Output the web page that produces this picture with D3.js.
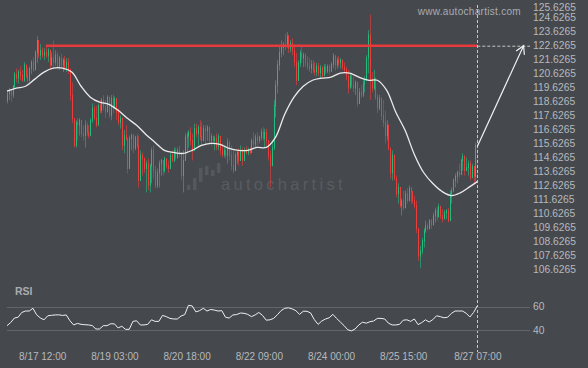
<!DOCTYPE html>
<html>
<head>
<meta charset="utf-8">
<script src="https://cdn.jsdelivr.net/npm/d3@7"></script>
<style>
html, body { margin: 0; padding: 0; background: #45484d; }
svg { display: block; font-family: "Liberation Sans", Arial, sans-serif; }
</style>
</head>
<body>
<div id="chart"></div>
<script>
// hourly bars, open = previous close
const firstOpen = 118.7
const closes = [
  119.2,119.45,119.1,119.75,120.6,120.3,120.75,120.5,120.15,121.25,
  120.5,120.15,121.0,121.45,120.9,122.15,123.0,121.95,122.3,121.95,
  122.15,121.9,122.3,121.25,121.75,121.45,121.95,121.15,121.75,121.25,
  121.6,121.05,121.45,120.9,119.1,117.4,115.5,117.15,116.95,117.3,
  116.35,116.2,116.95,116.45,116.2,117.3,118.15,117.45,116.95,118.35,
  118.0,118.75,118.25,117.9,118.95,117.65,118.85,118.15,118.85,117.85,
  117.15,117.45,115.5,116.2,116.0,113.85,116.0,116.2,115.3,116.1,
  115.5,113.0,114.8,114.55,113.85,114.2,112.65,114.05,115.15,113.7,
  112.65,113.55,114.2,114.43,113.7,114.55,114.05,113.85,114.8,114.43,
  115.15,114.65,115.15,114.95,113.35,114.43,116.1,116.2,116.45,115.85,
  115.15,116.7,116.35,116.8,116.15,115.85,116.7,116.55,116.8,115.85,
  116.15,115.85,116.0,115.4,116.15,115.15,114.85,115.15,114.8,115.7,
  114.8,114.05,113.7,114.8,115.0,114.43,115.15,114.43,115.15,115.0,
  115.2,115.0,115.85,115.6,116.1,115.85,116.1,116.45,116.0,116.45,
  115.85,114.8,114.05,115.35,118.35,119.8,121.25,122.15,122.5,122.7,
  122.55,123.3,122.45,122.8,122.3,121.45,120.15,121.4,122.1,121.75,
  121.95,121.4,121.15,121.0,121.3,120.9,120.75,121.15,120.7,121.05,
  120.5,121.1,120.8,121.15,120.8,121.3,121.9,121.25,121.6,121.4,
  121.6,121.1,120.9,120.4,119.6,120.45,119.8,119.6,120.0,118.5,
  119.3,119.1,119.9,120.15,121.75,123.4,120.2,119.6,120.3,118.95,
  118.15,118.85,117.65,117.15,116.2,116.95,115.3,113.55,114.8,113.15,
  112.05,112.5,111.2,111.55,111.05,112.05,111.55,112.45,112.2,111.55,
  111.2,109.55,107.6,107.97,108.69,109.41,109.77,109.55,110.13,109.85,
  110.48,110.84,110.4,111.15,110.48,110.25,110.7,110.84,110.13,112.05,
  112.28,112.99,113.3,113.57,113.42,114.43,114.72,113.71,113.92,114.2,
  113.2,114.0,113.3,115.5,115.43
]
const highs = [
  119.45,119.6,119.3,119.8,120.75,121.0,120.9,121.15,120.9,121.45,
  121.25,121.05,121.15,121.6,121.8,122.3,123.3,123.0,122.75,122.5,
  122.45,122.6,122.45,122.3,122.15,123.0,122.3,122.15,121.9,122.05,
  121.75,121.9,121.75,121.75,121.0,120.0,117.45,117.3,117.45,117.45,
  117.15,116.95,117.3,117.15,116.95,117.45,118.5,118.35,118.35,118.5,
  118.75,118.9,119.1,118.75,119.1,118.95,119.1,119.15,119.0,118.85,
  118.15,117.65,117.45,116.6,116.95,116.0,116.2,116.35,116.35,116.2,
  116.35,116.2,115.15,115.0,114.65,114.43,114.55,114.2,115.35,115.5,
  114.05,113.85,114.43,114.55,114.43,114.7,114.55,114.43,115.0,115.15,
  115.35,115.35,115.35,115.5,114.95,115.15,116.35,116.45,116.6,116.8,
  116.35,117.05,117.05,116.95,117.3,117.15,116.95,116.95,116.95,116.7,
  116.35,116.2,116.2,116.35,116.35,115.85,115.65,115.5,115.5,116.0,
  115.85,115.5,115.15,115.0,115.15,115.3,115.5,115.35,115.35,115.45,
  115.35,115.35,116.0,116.45,116.3,116.45,116.2,116.7,116.8,116.7,
  116.7,115.85,115.15,115.85,118.75,120.15,121.6,122.55,123.0,122.9,
  123.5,123.6,123.4,123.05,123.15,122.67,122.1,121.6,122.3,122.55,
  122.15,122.1,121.9,121.75,121.6,121.6,121.45,121.4,121.4,121.25,
  121.15,121.3,121.3,121.3,121.3,121.45,122.1,121.95,121.8,121.9,
  121.75,121.6,121.45,121.1,120.9,120.65,120.75,120.4,120.15,119.8,
  119.6,119.8,120.15,120.45,121.95,123.75,124.85,120.75,120.9,120.15,
  119.2,119.1,118.95,118.75,118.0,117.3,116.95,115.3,115.15,114.43,
  113.35,112.8,112.5,111.7,112.28,112.28,112.45,112.64,112.5,112.15,
  111.92,111.56,109.55,108.33,108.9,109.6,110.13,109.95,110.25,110.25,
  110.7,111.05,111.1,111.35,111.05,110.95,110.9,110.95,111.05,112.28,
  112.5,113.15,113.5,113.71,114.2,114.55,114.95,114.8,114.65,114.43,
  114.43,114.2,114.05,115.7,116.2
]
const lows = [
  118.5,118.75,118.6,118.9,119.6,120.0,119.9,120.15,120.05,120.05,
  120.3,119.95,120.05,120.6,120.75,120.9,121.4,121.75,121.6,121.75,
  121.6,121.75,121.45,120.95,121.15,121.1,121.2,120.9,120.9,121.05,
  120.75,120.9,120.75,120.6,118.7,117.1,115.35,115.35,115.85,116.2,
  116.1,115.85,115.35,116.2,116.0,116.6,117.1,117.3,116.8,117.1,
  117.8,117.8,118.0,117.45,118.0,117.45,117.3,117.8,118.35,117.3,
  116.95,116.7,115.15,114.95,115.85,113.5,114.95,115.15,114.95,115.15,
  115.3,112.5,113.35,113.35,113.55,112.15,112.3,112.15,112.8,113.15,
  112.45,112.45,112.5,113.35,113.35,113.55,113.85,113.55,113.85,114.3,
  114.3,114.43,114.55,114.65,113.0,112.15,114.43,114.95,115.35,115.5,
  114.43,115.35,116.1,115.5,115.85,115.5,115.85,115.5,115.85,115.65,
  115.5,115.65,115.15,115.15,115.15,114.8,114.65,114.65,114.55,114.2,
  114.43,113.7,113.5,113.7,114.2,114.05,114.43,114.05,114.8,114.85,
  114.8,114.85,115.15,115.35,115.3,115.5,115.65,115.85,115.85,115.35,
  115.5,114.43,112.5,114.05,115.15,117.5,119.2,120.85,121.8,121.95,
  122.3,122.5,122.1,122.15,121.95,121.1,119.8,120.3,121.1,121.4,
  121.1,121.1,120.9,120.75,120.65,120.65,120.5,120.45,120.45,120.3,
  120.3,120.45,120.6,120.65,120.6,120.75,121.0,120.85,121.0,121.15,
  121.0,120.9,120.65,120.15,119.2,119.65,119.6,119.3,119.1,118.25,
  118.7,118.9,118.95,119.3,120.15,120.65,118.75,119.3,119.45,118.75,
  117.8,118.0,117.3,116.8,115.65,115.85,115.15,113.15,113.0,113.0,
  111.8,111.35,111.05,110.5,110.85,111.05,111.35,111.55,111.35,111.35,
  111.0,109.25,107.25,106.75,107.75,108.2,109.25,109.41,109.55,109.55,
  109.77,110.0,110.13,110.6,110.25,110.0,110.35,110.25,110.0,110.6,
  111.35,112.15,112.5,112.8,113.2,113.5,113.71,113.35,113.71,113.35,
  113.0,113.35,112.7,113.0,113.35
]

// moving average read every 5 bars (last one at the final bar)
const maBars = d3.range(0, 255, 5).concat([254])
const maValues = [
  119.38,119.59,119.73,120.24,120.74,121.02,121.02,120.74,119.73,118.95,
  118.59,118.44,118.01,117.44,116.94,116.29,115.72,115.15,115.0,114.93,
  115.15,115.5,115.65,115.58,115.29,115.15,115.15,115.36,115.36,116.08,
  117.73,118.95,119.73,120.16,120.31,120.38,120.67,120.67,120.38,120.16,
  120.16,119.45,117.87,116.58,114.86,113.57,112.78,112.21,111.92,112.13,
  112.56,112.92
]

// RSI read every 2 bars
const rsiBars = d3.range(0, 255, 2)
const rsiValues = [
  43.9,46.5,50.3,51,55,56.2,56.2,58.5,53,50.4,
  48.8,52.2,52.6,52.9,53,52.5,52.9,48,44.5,45.8,
  45,44.7,44.5,44,41.1,41.1,43.9,43.9,45.5,45.4,
  42,43.4,40.8,40.8,47.5,48,44.5,44.5,45,48.8,
  47.5,47.5,52.5,51.5,50,49.5,49.5,52,53.2,61,
  60.5,55.5,56.5,58.5,56.2,57.5,57,56.2,56.5,51,
  50.3,52.9,53.2,54.5,54.3,53.4,51.5,52.9,55,52.5,
  48.5,48.8,50,53,56.5,58.5,58.9,58,56.5,53.4,
  56,56,54.5,48.9,45,47.8,49.5,50.5,53.4,50,
  47,44,40.5,39.5,41.1,44.5,46.8,46,47.2,47.8,
  50,50,49.5,46,44.5,44.5,45,48.5,48.8,47.5,
  49.5,44.8,46.5,48.8,47,49,52.2,51.5,50.5,51,
  54.2,56.2,56.2,56.2,54.3,51.2,55,60.5
]

const priceTicks = [106.6265,107.6265,108.6265,109.6265,110.6265,111.6265,112.6265,113.6265,
  114.6265,115.6265,116.6265,117.6265,118.6265,119.6265,120.6265,121.6265,122.6265,123.6265,
  124.6265,125.6265]
const rsiTicks = [40, 60]
const timeBars = [19, 58, 97, 136, 175, 214, 254]
const timeLabels = ["8/17 12:00", "8/19 03:00", "8/20 18:00", "8/22 09:00", "8/24 00:00", "8/25 15:00", "8/27 07:00"]

const level = 122.6265
const levelStart = 21
const lastBar = 254
const targetBar = 279

const W = 588, H = 368
const green = "#1fbd7e", red = "#f03b3b", text = "#b6b9bd"

const svg = d3.select("#chart").append("svg")
    .attr("width", W)
    .attr("height", H)

svg.append("rect").attr("width", W).attr("height", H).attr("fill", "#45484d")

const x = d3.scaleLinear().domain([0, lastBar]).range([7, 477.3])
const y = d3.scaleLinear().domain([106.6265, 122.6265]).range([269.7, 45.7])
const yr = d3.scaleLinear().domain([40, 60]).range([330.3, 306.5])
const px = i => Math.round(x(i)) + 0.5

// watermark
const wm = svg.append("g").attr("fill", "#55585d")
const logo = [[187, 185, 190], [193, 178, 190], [199, 168, 182], [205, 166, 175], [211, 170, 176], [217, 163, 173]]
logo.forEach(b => wm.append("rect").attr("x", b[0]).attr("y", b[1]).attr("width", 3.5).attr("height", b[2] - b[1]))
svg.append("text")
    .attr("x", 221).attr("y", 190)
    .attr("fill", "#595c61")
    .attr("font-size", 16.5)
    .attr("letter-spacing", 3.3)
    .text("autochartist")

svg.append("text")
    .attr("x", 521).attr("y", 15)
    .attr("text-anchor", "end")
    .attr("fill", "#a9acb0")
    .attr("font-size", 10)
    .attr("letter-spacing", 0.3)
    .text("www.autochartist.com")

// price axis
const yAxis = d3.axisRight(y).tickValues(priceTicks).tickSize(0).tickPadding(0)
    .tickFormat(d3.format(".4f"))
const ya = svg.append("g").attr("transform", "translate(533,0)").call(yAxis)
ya.select(".domain").remove()
ya.selectAll("text").attr("fill", text).attr("font-size", 10.3).attr("font-family", null)
ya.selectAll("text").filter(d => y(d) < 6).attr("dy", "0.62em")

// candles
const bars = closes.map((c, i) => ({
  i: i,
  o: i === 0 ? firstOpen : closes[i - 1],
  c: c,
  h: highs[i],
  l: lows[i]
}))
const cg = svg.append("g")
cg.selectAll("line.wick").data(bars).enter().append("line")
    .attr("class", "wick")
    .attr("x1", d => px(d.i)).attr("x2", d => px(d.i))
    .attr("y1", d => y(Math.max(d.h, d.o, d.c)))
    .attr("y2", d => y(Math.min(d.l, d.o, d.c)))
    .attr("stroke", d => d.c >= d.o ? green : red)
    .attr("stroke-opacity", 0.6)
    .attr("stroke-width", 1)
cg.selectAll("line.body").data(bars).enter().append("line")
    .attr("class", "body")
    .attr("x1", d => px(d.i)).attr("x2", d => px(d.i))
    .attr("y1", d => y(Math.max(d.o, d.c)) - 0.5)
    .attr("y2", d => y(Math.min(d.o, d.c)) + 0.5)
    .attr("stroke", d => d.c >= d.o ? green : red)
    .attr("stroke-width", 1)

// moving average
svg.append("path")
    .datum(maValues)
    .attr("fill", "none")
    .attr("stroke", "#ececec")
    .attr("stroke-width", 1.3)
    .attr("d", d3.line().x((d, k) => x(maBars[k])).y(d => y(d)).curve(d3.curveCatmullRom))

// resistance level
svg.append("line")
    .attr("x1", x(levelStart)).attr("x2", x(lastBar))
    .attr("y1", y(level)).attr("y2", y(level))
    .attr("stroke", "#e8393c").attr("stroke-width", 2.4)
svg.append("line")
    .attr("x1", x(lastBar)).attr("x2", 530)
    .attr("y1", y(level) + 0.5).attr("y2", y(level) + 0.5)
    .attr("stroke", "#c9c9c9").attr("stroke-width", 1).attr("stroke-dasharray", "3,2")
svg.append("line")
    .attr("x1", px(lastBar)).attr("x2", px(lastBar))
    .attr("y1", 5).attr("y2", 352)
    .attr("stroke", "#c9c9c9").attr("stroke-width", 1).attr("stroke-dasharray", "3,2")

// forecast arrow
svg.append("defs").append("marker")
    .attr("id", "arr")
    .attr("markerUnits", "userSpaceOnUse")
    .attr("viewBox", "-10 -6 12 12")
    .attr("refX", 0).attr("refY", 0)
    .attr("markerWidth", 12).attr("markerHeight", 12)
    .attr("orient", "auto")
    .append("path")
    .attr("d", "M-8,-4.5L0,0L-8,4.5")
    .attr("fill", "none").attr("stroke", "#f2f2f2").attr("stroke-width", 1.2)
svg.append("line")
    .attr("x1", x(lastBar)).attr("y1", y(closes[lastBar]))
    .attr("x2", x(targetBar)).attr("y2", y(level))
    .attr("stroke", "#f2f2f2").attr("stroke-width", 1.2)
    .attr("marker-end", "url(#arr)")

// RSI panel
svg.append("text")
    .attr("x", 15).attr("y", 295)
    .attr("fill", "#a9acb0").attr("font-size", 10.5).attr("font-weight", "bold")
    .text("RSI")
svg.selectAll("line.rsigrid").data(rsiTicks).enter().append("line")
    .attr("class", "rsigrid")
    .attr("x1", 7).attr("x2", 530)
    .attr("y1", d => Math.round(yr(d)) + 0.5).attr("y2", d => Math.round(yr(d)) + 0.5)
    .attr("stroke", "#62666b")
const ra = svg.append("g").attr("transform", "translate(533,0)")
    .call(d3.axisRight(yr).tickValues(rsiTicks).tickSize(0).tickPadding(0))
ra.select(".domain").remove()
ra.selectAll("text").attr("fill", text).attr("font-size", 10.3).attr("font-family", null)

svg.append("path")
    .datum(rsiValues)
    .attr("fill", "none")
    .attr("stroke", "#f0f0f0")
    .attr("stroke-width", 1)
    .attr("d", d3.line().x((d, k) => x(rsiBars[k])).y(d => yr(d)))

// time axis
const xa = svg.append("g").attr("transform", "translate(0,350)")
    .call(d3.axisBottom(x).tickValues(timeBars).tickSize(0).tickPadding(3)
      .tickFormat((d, k) => timeLabels[k]))
xa.select(".domain").remove()
xa.selectAll("text").attr("fill", text).attr("font-size", 10).attr("font-family", null)
</script>
</body>
</html>
